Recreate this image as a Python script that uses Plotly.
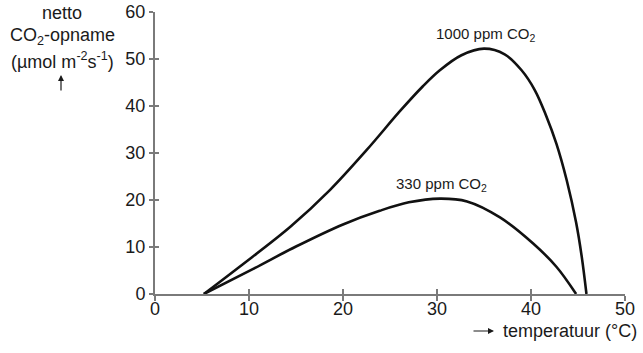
import plotly.graph_objects as go

# Data
temp_1000 = [5.2, 9.0, 14.4, 18.6, 22.5, 26.1, 28.5, 30.3, 32.6, 35.0, 37.2, 39.0,
             40.4, 41.6, 42.7, 43.8, 44.8, 45.4, 45.9]
co2_1000 = [0, 5.8, 14.3, 22.1, 30.6, 39.0, 44.2, 47.6, 50.8, 52.2, 51.0, 47.6,
            43.4, 38.0, 32.0, 24.2, 15.2, 7.9, 0]

temp_330 = [5.2, 10.5, 15.0, 20.0, 23.9, 27.0, 30.3, 33.2, 36.7, 40.2, 42.7, 44.8]
co2_330 = [0, 5.4, 10.1, 14.8, 17.7, 19.5, 20.3, 19.7, 16.3, 10.8, 5.8, 0]

x_ticks = [0, 10, 20, 30, 40, 50]
y_ticks = [0, 10, 20, 30, 40, 50, 60]

FONT = "Liberation Sans, Arial, sans-serif"
AX = "#7a7a7a"
TXT = "#1a1a1a"

fig = go.Figure()
fig.add_trace(go.Scatter(x=temp_1000, y=co2_1000, mode="lines",
                         line=dict(color="#111", width=2.6, shape="spline", smoothing=1.0),
                         showlegend=False, hoverinfo="skip"))
fig.add_trace(go.Scatter(x=temp_330, y=co2_330, mode="lines",
                         line=dict(color="#111", width=2.6, shape="spline", smoothing=1.0),
                         showlegend=False, hoverinfo="skip"))
# invisible trace for overlay axes (inside tick marks)
fig.add_trace(go.Scatter(x=[x_ticks[0]], y=[y_ticks[0]], xaxis="x2", yaxis="y2",
                         mode="markers", marker=dict(opacity=0), showlegend=False, hoverinfo="skip"))

fig.update_layout(
    width=643, height=353,
    margin=dict(l=155, r=18, t=12, b=59, autoexpand=False),
    paper_bgcolor="white", plot_bgcolor="white",
    font=dict(family=FONT, size=18, color=TXT),
    xaxis=dict(range=[0, 50], tickvals=x_ticks, showgrid=False, zeroline=False,
               showline=True, linecolor=AX, linewidth=2, automargin=False,
               ticks="outside", ticklen=5, tickwidth=1.5, tickcolor=AX,
               ticklabelstandoff=-8,
               tickfont=dict(size=18, color=TXT)),
    yaxis=dict(range=[0, 60], tickvals=y_ticks, showgrid=False, zeroline=False,
               showline=True, linecolor=AX, linewidth=2, automargin=False,
               ticks="outside", ticklen=4, tickwidth=1.5, tickcolor=AX,
               tickfont=dict(size=18, color=TXT)),
    xaxis2=dict(range=[0, 50], tickvals=x_ticks, overlaying="x", showgrid=False,
                zeroline=False, showline=False, showticklabels=False, automargin=False,
                ticks="inside", ticklen=5, tickwidth=1.5, tickcolor=AX, side="bottom"),
    yaxis2=dict(range=[0, 60], tickvals=y_ticks, overlaying="y", showgrid=False,
                zeroline=False, showline=False, showticklabels=False, automargin=False,
                ticks="inside", ticklen=4, tickwidth=1.5, tickcolor=AX, side="left"),
)

def px2paper_x(px):
    return (px - 155) / 470

def py2paper_y(py):
    return (294 - py) / 282

ann = []
# y-axis title lines
for text, py in [("netto", 13), ("CO<sub>2</sub>-opname", 37), ("(µmol m<sup>-2</sup>s<sup>-1</sup>)", 61)]:
    ann.append(dict(text=text, xref="paper", yref="paper", x=px2paper_x(62), y=py2paper_y(py),
                    xanchor="center", yanchor="middle", showarrow=False,
                    font=dict(size=18, color=TXT, family=FONT)))
# up arrow
ann.append(dict(text="", xref="paper", yref="paper", x=px2paper_x(61), y=py2paper_y(75),
                ax=0, ay=17, showarrow=True, arrowhead=2, arrowsize=1, arrowwidth=1.2,
                arrowcolor=TXT))
# x-axis title
ann.append(dict(text="temperatuur (°C)", xref="paper", yref="paper", x=px2paper_x(501),
                y=py2paper_y(331), xanchor="left", yanchor="middle", showarrow=False,
                font=dict(size=18, color=TXT, family=FONT)))
ann.append(dict(text="", xref="paper", yref="paper", x=px2paper_x(494), y=py2paper_y(331),
                ax=-22, ay=0, showarrow=True, arrowhead=2, arrowsize=1, arrowwidth=1.2,
                arrowcolor=TXT))
# curve labels
ann.append(dict(text="1000 ppm CO<sub>2</sub>", x=35.2, y=55.3, xref="x", yref="y",
                xanchor="center", yanchor="middle", showarrow=False,
                font=dict(size=15, color=TXT, family=FONT)))
ann.append(dict(text="330 ppm CO<sub>2</sub>", x=30.5, y=23.4, xref="x", yref="y",
                xanchor="center", yanchor="middle", showarrow=False,
                font=dict(size=15, color=TXT, family=FONT)))
fig.update_layout(annotations=ann)

fig.write_html("out.html")
